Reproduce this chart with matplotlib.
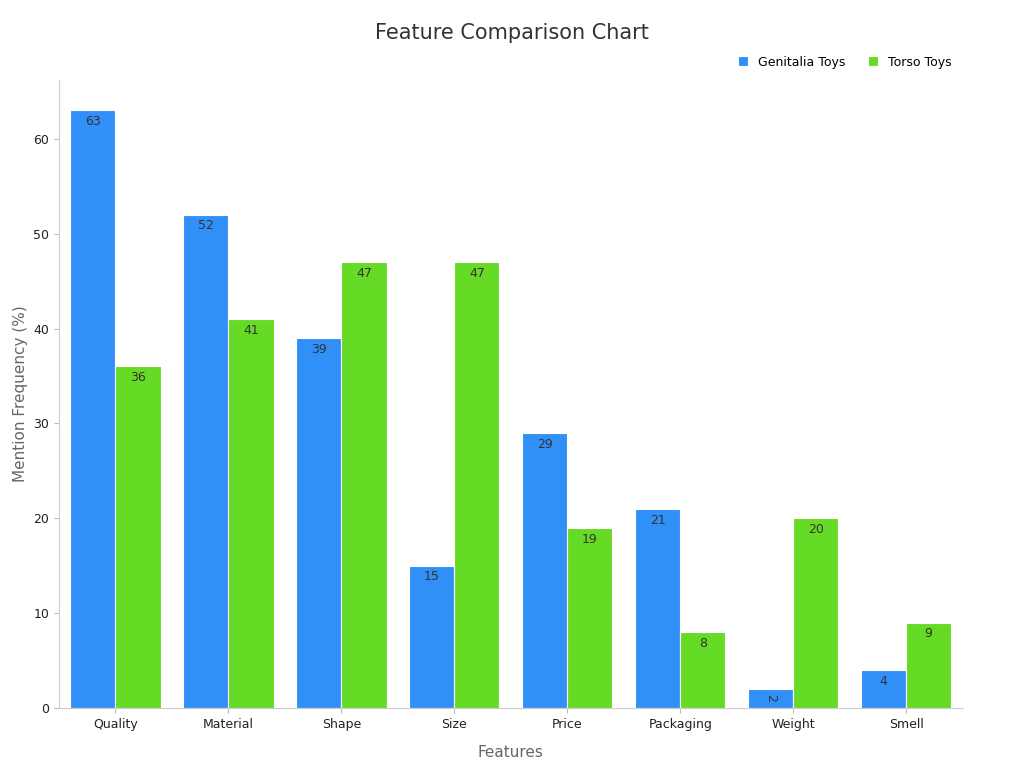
import matplotlib
matplotlib.use("Agg")
import matplotlib.pyplot as plt
import numpy as np

categories = ["Quality", "Material", "Shape", "Size", "Price", "Packaging", "Weight", "Smell"]
genitalia = [63, 52, 39, 15, 29, 21, 2, 4]
torso = [36, 41, 47, 47, 19, 8, 20, 9]

fig = plt.figure(figsize=(10.24, 7.68), dpi=100)
ax = fig.add_axes([0.0576, 0.078, 0.8824, 0.818])
x = np.arange(len(categories))
w = 0.4
b1 = ax.bar(x - w/2, genitalia, w, color="#3090F8", edgecolor="white", linewidth=0.8, label="Genitalia Toys")
b2 = ax.bar(x + w/2, torso, w, color="#66DB26", edgecolor="white", linewidth=0.8, label="Torso Toys")
for bars, vals in ((b1, genitalia), (b2, torso)):
    for r, v in zip(bars, vals):
        rot = 270 if v < 3 else 0
        ax.text(r.get_x() + r.get_width()/2, v - 0.5, str(v), ha="center", va="top",
                fontsize=9, color="#333333", rotation=rot)
ax.set_xlim(-0.5, 7.5)
ax.set_ylim(0, 66.2)
ax.set_xticks(x)
ax.set_xticklabels(categories, fontsize=9)
ax.set_yticks(range(0, 61, 10))
ax.tick_params(labelsize=9, colors="#222222")
ax.tick_params(axis="both", color="#bbbbbb")
for s in ("top", "right"):
    ax.spines[s].set_visible(False)
for s in ("left", "bottom"):
    ax.spines[s].set_color("#cccccc")
ax.set_xlabel("Features", fontsize=11, color="#666666", labelpad=10)
ax.set_ylabel("Mention Frequency (%)", fontsize=11, color="#666666")
fig.text(0.5, 0.957, "Feature Comparison Chart", ha="center", va="center", fontsize=15, color="#333333")
ax.legend(loc="lower right", bbox_to_anchor=(1.0, 1.0), ncol=2, frameon=False, fontsize=9,
          handlelength=0.8, handleheight=0.8, columnspacing=1.8)
fig.savefig("out.png", dpi=100)
